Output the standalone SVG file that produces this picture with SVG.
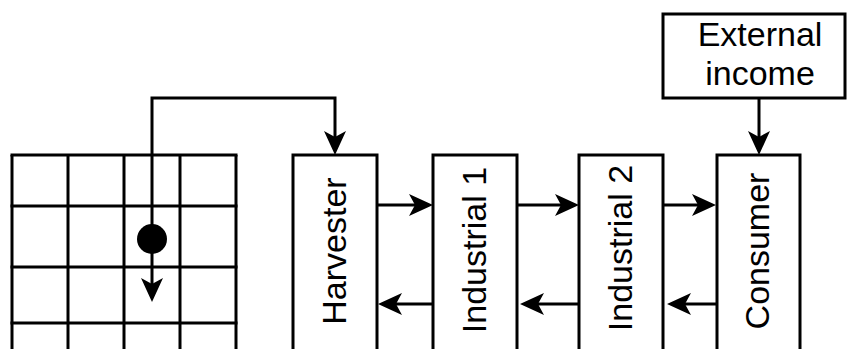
<svg xmlns="http://www.w3.org/2000/svg" width="847" height="349" viewBox="0 0 847 349">
<style>
.box{fill:#fff;stroke:#000;stroke-width:3}
.grid line{stroke:#000;stroke-width:3}
.conn path{fill:none;stroke:#000;stroke-width:3;marker-end:url(#ah)}
text{font-family:"Liberation Sans",Arial,sans-serif;font-size:34px;fill:#000;text-anchor:middle}
</style>
<defs>
<marker id="ah" viewBox="0 -11 24 22" refX="6" refY="0" markerWidth="24" markerHeight="22" markerUnits="userSpaceOnUse" orient="auto">
<path d="M24,0 L0,-11 L6,0 L0,11 Z" fill="#000"/>
</marker>
</defs>
<g id="grid" class="grid">
<line x1="12" y1="155" x2="12" y2="349"/>
<line x1="68" y1="155" x2="68" y2="349"/>
<line x1="124" y1="155" x2="124" y2="349"/>
<line x1="180" y1="155" x2="180" y2="349"/>
<line x1="236" y1="155" x2="236" y2="349"/>
<line x1="10.5" y1="155" x2="237.5" y2="155"/>
<line x1="10.5" y1="206" x2="237.5" y2="206"/>
<line x1="10.5" y1="267" x2="237.5" y2="267"/>
<line x1="10.5" y1="323" x2="237.5" y2="323"/>
</g>
<g id="harvester"><rect class="box" x="293" y="155" width="84" height="200"/><text transform="translate(346,251) rotate(-90)">Harvester</text></g>
<g id="industrial1"><rect class="box" x="433" y="155" width="84" height="200"/><text transform="translate(486,250) rotate(-90)">Industrial 1</text></g>
<g id="industrial2"><rect class="box" x="579" y="155" width="84" height="200"/><text transform="translate(632,248) rotate(-90)">Industrial 2</text></g>
<g id="consumer"><rect class="box" x="717" y="155" width="83" height="200"/><text transform="translate(769,251) rotate(-90)">Consumer</text></g>
<g id="external"><rect class="box" x="663" y="14" width="182" height="84"/><text x="760" y="46">External</text><text x="760" y="85">income</text></g>
<g id="connectors" class="conn">
<path d="M152,239 V98 H335 V137"/>
<path d="M152,239 V284"/>
<path d="M759,98 V137"/>
<path d="M377,205 H415"/>
<path d="M433,304 H396"/>
<path d="M517,205 H561"/>
<path d="M579,304 H538"/>
<path d="M663,205 H698"/>
<path d="M717,304 H685"/>
</g>
<circle id="agent" cx="152" cy="239" r="15" fill="#000"/>
</svg>
